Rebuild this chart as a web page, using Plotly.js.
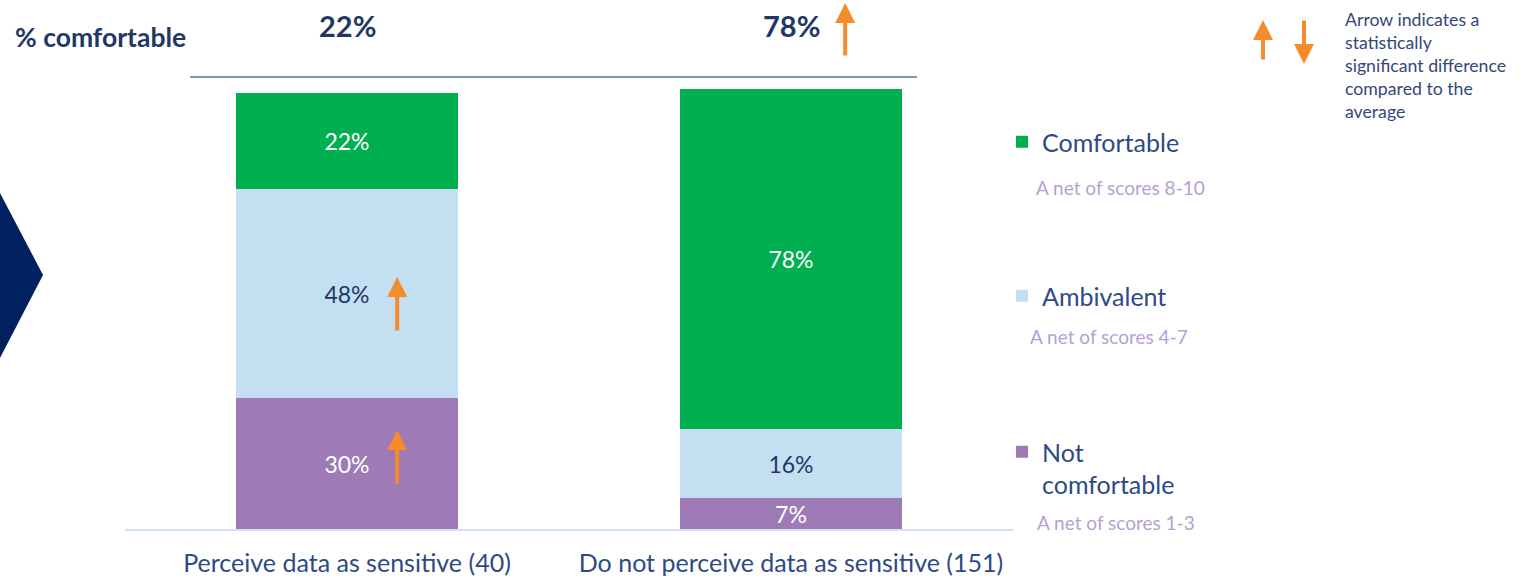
<!DOCTYPE html>
<html>
<head>
<meta charset="utf-8">
<script src="https://cdn.plot.ly/plotly-3.0.1.min.js"></script>
<style>
  html, body { margin: 0; padding: 0; background: #ffffff; }
  #chart { width: 1528px; height: 579px; }
</style>
</head>
<body>
<div id="chart"></div>
<script>
// ---------- data ----------
const categories = ['Perceive data as sensitive (40)', 'Do not perceive data as sensitive (151)'];
const notComfortable = [30, 7];
const ambivalent = [48, 16];
const comfortable = [22, 78];
const seriesNames = ['Not<br>comfortable', 'Ambivalent', 'Comfortable'];
const seriesNotes = ['A net of scores 1-3', 'A net of scores 4-7', 'A net of scores 8-10'];
const headlineLabel = '% comfortable';
const headlineValues = [22, 78];
// significance flags: 'up' / 'down' / null
const sigNotComfortable = ['up', null];
const sigAmbivalent = ['up', null];
const sigComfortable = [null, null];
const sigHeadline = [null, 'up'];
const arrowNote = 'Arrow indicates a<br>statistically<br>significant difference<br>compared to the<br>average';

// ---------- style ----------
const W = 1528, H = 579;
const FONT = 'Lato, "Noto Sans", sans-serif';
const NAVY = '#1f3864';
const LABEL = '#2d4a86';
const ORANGE = '#f58b2b';
const NOTE = '#b79fd6';
const colors = ['#9e7bb6', '#c5dff2', '#00b050'];
const textColors = ['#ffffff', NAVY, '#ffffff'];
const px = x => x / W;
const py = y => 1 - y / H;
const yTop = 106.65;
// layout: where each series' legend block starts (pixels from top) and its note
const legendTops = [429, 273, 119];
const legendNames = ['legend3', 'legend2', 'legend'];
const notePos = [[1035, 522], [1028, 336], [1034, 187]];
// vertical shift (value units above segment centre) for in-bar arrow tips
const arrowTipShift = [7.7, 3.8, 4];

const stacks = [notComfortable, ambivalent, comfortable];
const sigs = [sigNotComfortable, sigAmbivalent, sigComfortable];

const traces = stacks.map((vals, s) => ({
  type: 'bar', name: seriesNames[s], x: categories, y: vals,
  marker: { color: colors[s], line: { width: 0 } },
  width: 0.5,
  texttemplate: '%{y}%', textposition: 'inside', insidetextanchor: 'middle',
  textangle: 0, constraintext: 'none',
  textfont: { family: FONT, size: 23, color: textColors[s] },
  legend: legendNames[s], hoverinfo: 'skip'
}));

const annotations = [];
const shapes = [];

// significance arrows inside bars
for (let s = 0; s < stacks.length; s++) {
  for (let i = 0; i < categories.length; i++) {
    if (!sigs[s][i]) continue;
    let base = 0;
    for (let k = 0; k < s; k++) base += stacks[k][i];
    const center = base + stacks[s][i] / 2;
    const up = sigs[s][i] === 'up';
    annotations.push({
      xref: 'x', yref: 'y', x: i + 0.113, y: center + (up ? arrowTipShift[s] : -arrowTipShift[s]),
      ax: 0, ay: up ? 55 : -55,
      text: '', showarrow: true, arrowhead: 2, arrowsize: 1, arrowwidth: 4,
      arrowcolor: ORANGE, standoff: 0, startstandoff: 0
    });
  }
}

// headline row
annotations.push({
  xref: 'paper', yref: 'paper', x: px(13), y: py(37), xanchor: 'left', yanchor: 'middle',
  text: '<b>' + headlineLabel + '</b>', showarrow: false,
  font: { family: FONT, size: 26.5, color: NAVY }
});
headlineValues.forEach((v, i) => {
  annotations.push({
    xref: 'x', yref: 'paper', x: categories[i], y: py(25), xanchor: 'center', yanchor: 'middle',
    text: '<b>' + v + '%</b>', showarrow: false,
    font: { family: FONT, size: 29, color: NAVY }
  });
  if (sigHeadline[i]) {
    const up = sigHeadline[i] === 'up';
    annotations.push({
      xref: 'x', yref: 'paper', x: i + 0.122, y: up ? py(3) : py(57),
      ax: 0, ay: up ? 54 : -54,
      text: '', showarrow: true, arrowhead: 2, arrowsize: 1, arrowwidth: 4,
      arrowcolor: ORANGE, standoff: 0, startstandoff: 0
    });
  }
});

// arrow key
annotations.push({
  xref: 'paper', yref: 'paper', x: px(1263), y: py(20), ax: 0, ay: 41,
  text: '', showarrow: true, arrowhead: 2, arrowsize: 1, arrowwidth: 4,
  arrowcolor: ORANGE, standoff: 0, startstandoff: 0
});
annotations.push({
  xref: 'paper', yref: 'paper', x: px(1304), y: py(64), ax: 0, ay: -45,
  text: '', showarrow: true, arrowhead: 2, arrowsize: 1, arrowwidth: 4,
  arrowcolor: ORANGE, standoff: 0, startstandoff: 0
});
annotations.push({
  xref: 'paper', yref: 'paper', x: px(1343), y: py(7), xanchor: 'left', yanchor: 'top',
  align: 'left', text: arrowNote, showarrow: false,
  font: { family: FONT, size: 17.7, color: '#34477a' }
});

// legend notes
seriesNotes.forEach((t, k) => {
  annotations.push({
    xref: 'paper', yref: 'paper', x: px(notePos[k][0]), y: py(notePos[k][1]),
    xanchor: 'left', yanchor: 'middle', text: t, showarrow: false,
    font: { family: FONT, size: 19, color: NOTE }
  });
});

// separator line under headline
shapes.push({
  type: 'line', xref: 'paper', yref: 'paper', x0: px(190), x1: px(917), y0: py(77), y1: py(77),
  line: { color: '#8497b0', width: 2 }
});
// chevron at left edge
shapes.push({
  type: 'path', xref: 'paper', yref: 'paper',
  path: `M ${px(-5)},${py(185)} L ${px(0)},${py(193)} L ${px(43)},${py(275)} L ${px(0)},${py(358)} L ${px(-5)},${py(366)} Z`,
  fillcolor: '#002060', line: { width: 0 }
});

function legendBox(top) {
  return {
    x: px(1002), y: py(top), xanchor: 'left', yanchor: 'top', valign: 'top',
    font: { family: FONT, size: 25, color: LABEL },
    bgcolor: 'rgba(0,0,0,0)', borderwidth: 0, itemclick: false, itemdoubleclick: false
  };
}

const layout = {
  width: W, height: H,
  margin: { l: 0, r: 0, t: 0, b: 0, pad: 0 },
  paper_bgcolor: '#ffffff', plot_bgcolor: '#ffffff',
  barmode: 'stack', bargap: 0.5,
  showlegend: true,
  xaxis: {
    domain: [px(125), px(1013)], range: [-0.5, 1.5], type: 'category',
    showline: true, linecolor: '#d3e1f4', linewidth: 1.5,
    showgrid: false, zeroline: false, ticks: '',
    tickfont: { family: FONT, size: 25, color: LABEL },
    ticklabelstandoff: 11, fixedrange: true
  },
  yaxis: {
    domain: [1 - 529 / H, 1 - 64 / H], range: [0, yTop],
    visible: false, showgrid: false, zeroline: false, fixedrange: true
  },
  annotations: annotations,
  shapes: shapes,
  hovermode: false
};
legendNames.forEach((n, s) => { layout[n] = legendBox(legendTops[s]); });

Plotly.newPlot('chart', traces, layout, { staticPlot: true, displayModeBar: false });
</script>
</body>
</html>
